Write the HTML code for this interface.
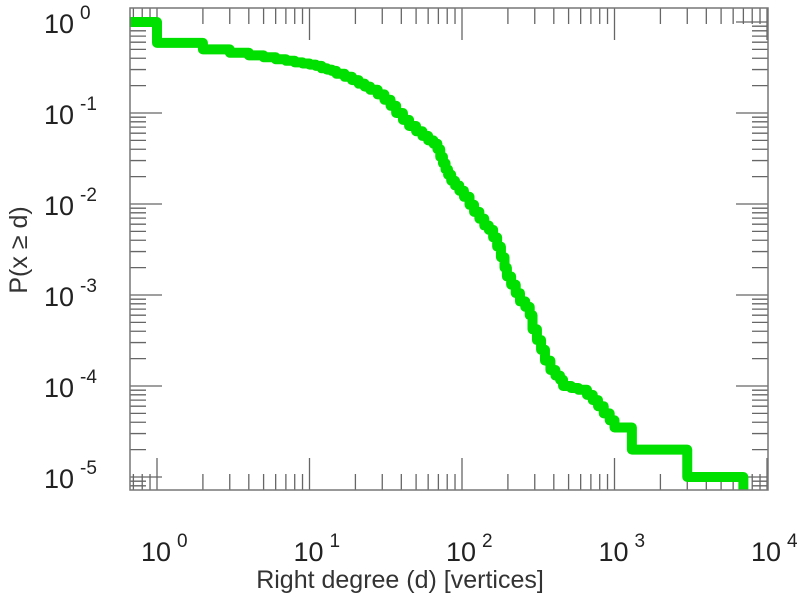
<!DOCTYPE html>
<html><head><meta charset="utf-8"><style>
html,body{margin:0;padding:0;background:#fff;}
svg{display:block;font-family:"Liberation Sans",sans-serif;}
</style></head><body>
<svg id="chart" width="797" height="600" viewBox="0 0 797 600">
<g id="ticks"></g>
<g id="series"></g>
<rect x="130" y="8" width="638" height="482" fill="none" stroke="#777" stroke-width="1.5"/>
<g id="labels"></g>
<text x="400" y="588" font-size="25" fill="#333" text-anchor="middle">Right degree (d) [vertices]</text>
<text transform="translate(27,250) rotate(-90)" font-size="25" fill="#333" text-anchor="middle">P(x ≥ d)</text>
</svg>
<script>
const degrees = [1,2,3,4,5,6,7,8,9,10,11,12,13,14,15,17,19,21,23,25,28,31,34,37,41,45,50,55,60,65,69,72,75,78,81,85,90,96,103,112,120,130,140,150,160,170,180,190,197,210,225,240,260,278,290,310,330,350,380,410,440,460,520,580,660,720,780,850,930,1000,1300,3000,7000];
const probs = [1.0,0.59,0.50,0.46,0.43,0.41,0.39,0.375,0.36,0.35,0.34,0.33,0.31,0.30,0.29,0.27,0.25,0.23,0.21,0.195,0.18,0.16,0.14,0.12,0.10,0.084,0.072,0.063,0.056,0.05,0.046,0.04,0.033,0.028,0.024,0.021,0.018,0.016,0.014,0.012,0.0098,0.0082,0.0069,0.0058,0.0052,0.0043,0.0034,0.0026,0.002,0.0016,0.0013,0.00105,0.00085,0.00074,0.0006,0.00042,0.00032,0.00025,0.00019,0.00015,0.00013,0.000117,0.0001,0.000095,0.000091,0.00008,0.00007,0.00006,0.00005,0.000042,0.000035,0.00002,0.00001];
const xDecades = [0,1,2,3,4];
const yDecades = [0,-1,-2,-3,-4,-5];
const NS="http://www.w3.org/2000/svg";
const L=130,R=768,T=8,B=490;
function xs(d){return 157+Math.log10(d)*152.5;}
function ys(p){return 22-Math.log10(p)*91;}
function mk(tag,attrs,parent){const e=document.createElementNS(NS,tag);for(const k in attrs)e.setAttribute(k,attrs[k]);parent.appendChild(e);return e;}
const tg=document.getElementById('ticks');
let tp="";
for(let e=-1;e<=4;e++){for(let m=1;m<10;m++){const v=Math.pow(10,e)*m;const x=xs(v);if(x<L||x>R)continue;const len=m===1?32:16;tp+=`M${x},${B}v${-len}M${x},${T}v${len}`;}}
for(let e=-6;e<=0;e++){for(let m=1;m<10;m++){const v=Math.pow(10,e)*m;const y=ys(v);if(y<T||y>B)continue;const len=m===1?32:16;tp+=`M${L},${y}h${len}M${R},${y}h${-len}`;}}
const tpath=mk('path',{d:tp,stroke:'#666','stroke-width':1.3,fill:'none'},tg);


// step: level probs[i] continues until degrees[i], then drops to probs[i+1]
let d=`M${L},${ys(probs[0])}`;
for(let i=0;i<degrees.length;i++){
  d+=`H${xs(degrees[i])}`;
  if(i+1<degrees.length)d+=`V${ys(probs[i+1])}`;
}
d+=`V${B}`;
const sp=mk('path',{d:d,stroke:'#00e000','stroke-width':10,fill:'none','stroke-linejoin':'round'},document.getElementById('series'));


const lg=document.getElementById('labels');
xDecades.forEach(e=>{
  const x=xs(Math.pow(10,e));
  const t=mk('text',{x:x-16,y:561,'font-size':27,fill:'#222'},lg);
  
  
  t.innerHTML=`10<tspan dx="6" dy="-14" font-size="19">${e}</tspan>`;
});
yDecades.forEach(e=>{
  const y=ys(Math.pow(10,e));
  const t=mk('text',{x:44,y:y+11,'font-size':27,fill:'#222'},lg);
  
  
  t.innerHTML=`10<tspan dx="6" dy="-14" font-size="19">${e}</tspan>`;
});
</script>
</body></html>
